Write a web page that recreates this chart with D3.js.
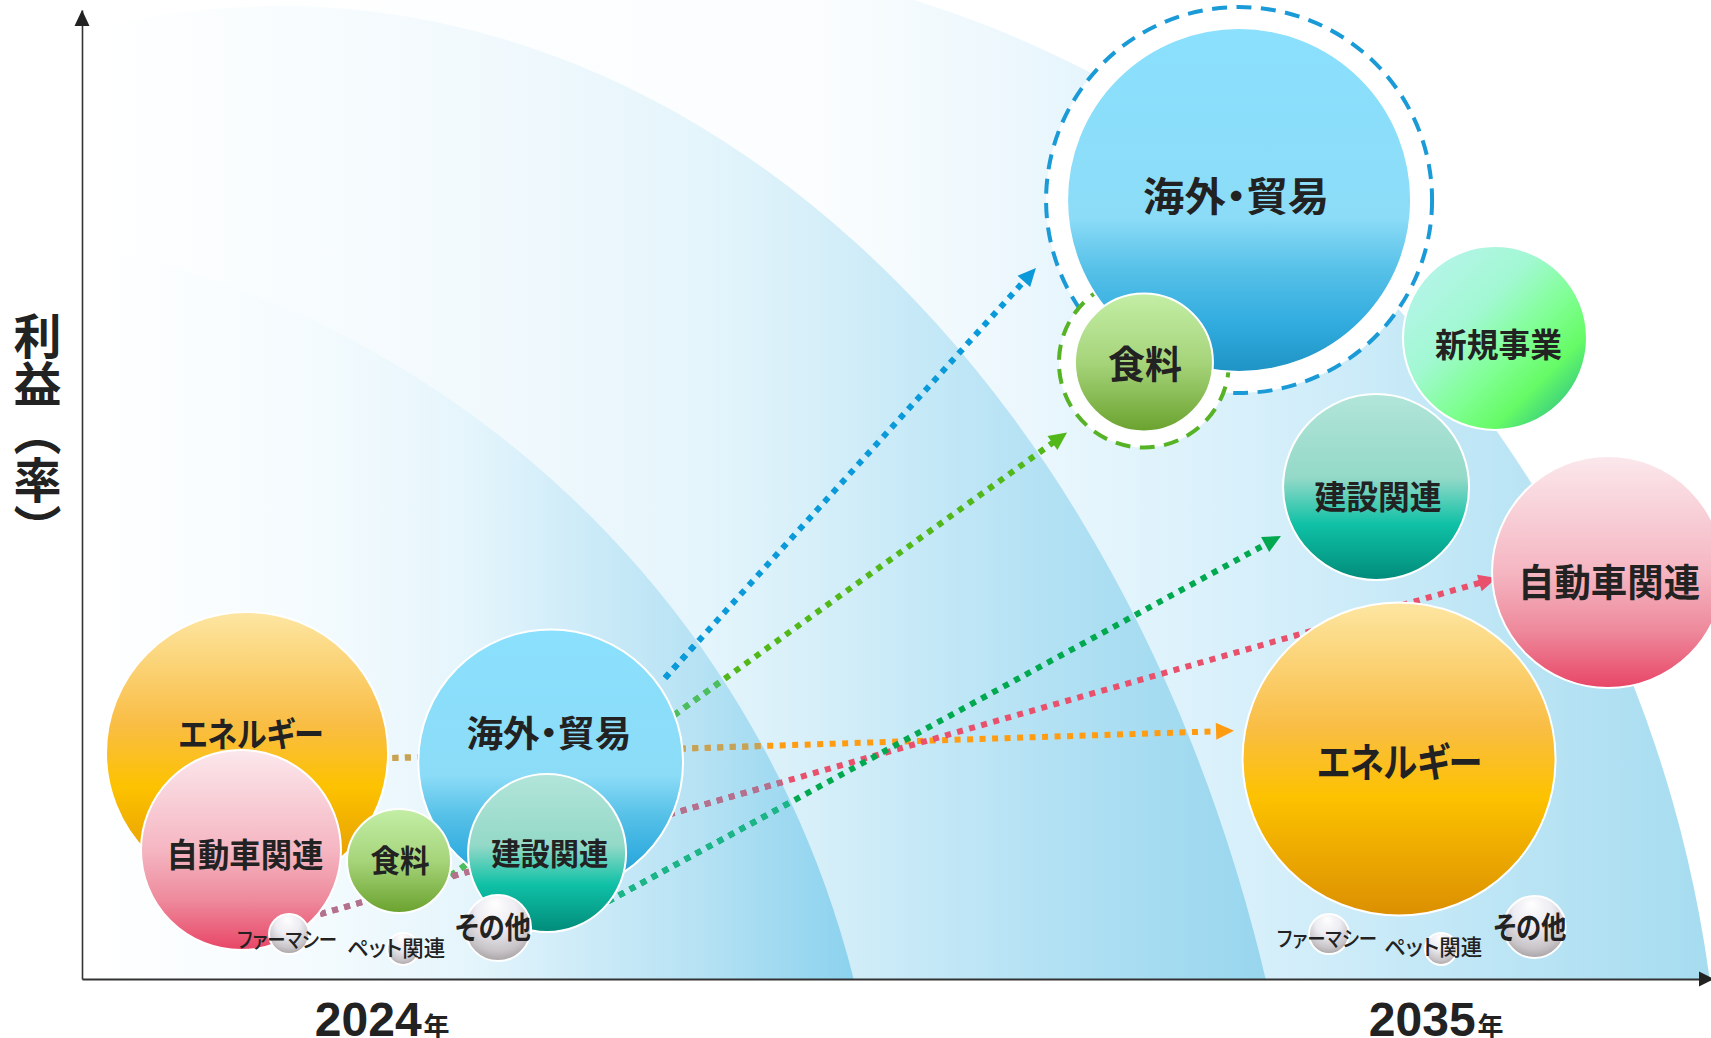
<!DOCTYPE html>
<html><head><meta charset="utf-8">
<script src="https://cdn.jsdelivr.net/npm/d3@7"></script>
<style>
html,body{margin:0;padding:0;background:#fff;overflow:hidden;}
svg{display:block;}
text{font-family:"Noto Sans CJK JP","Noto Sans",sans-serif;}
.lbl{font-feature-settings:"palt";}
</style></head><body>
<svg id="chart" width="1711" height="1038"></svg>
<script>
// ---------------- DATA ----------------
const years = ["2024", "2035"];
const yearUnit = "年";
const yearPos = [18.4, 83.1];
const yAxisLabel = "利益（率）";

const categories2024 = ["エネルギー","海外・貿易","自動車関連","建設関連","食料","ファーマシー","ペット関連","その他"];
const x2024 = [10.13, 28.77, 9.76, 28.55, 19.46, 12.71, 19.71, 25.54];
const y2024 = [23.32, 22.40, 13.31, 13.00, 12.18, 4.64, 3.10, 5.26];
const size2024 = [70.5, 66.2, 50, 39.5, 26, 10, 8, 16.5];

const categories2035 = ["海外・貿易","食料","新規事業","建設関連","自動車関連","エネルギー","ファーマシー","ペット関連","その他"];
const x2035 = [71.03, 65.19, 86.74, 79.44, 93.68, 80.85, 76.55, 83.43, 89.17];
const y2035 = [80.39, 63.62, 66.15, 50.77, 42.00, 22.70, 4.64, 3.10, 5.37];
const size2035 = [86, 34.5, 46, 46.5, 58, 78.25, 10, 8, 15.5];

const highlighted2035 = ["海外・貿易","食料"];

const arrowCategories = ["海外・貿易","食料","エネルギー","自動車関連","建設関連"];
const arrowFromX = [35.79, 20.14, 15.22, 10.93, 30.26];
const arrowFromY = [31.06, 7.64, 22.60, 4.92, 6.16];
const arrowToX = [58.56, 60.47, 70.72, 86.84, 73.60];
const arrowToY = [73.37, 56.40, 25.62, 41.38, 45.72];

// background growth bands: elliptical arcs (centre and radii in chart units)
const bandNames = ["band3","band2","band1"];
const bandCx = [31.80, 12.15, -12.15];
const bandCy = [-17.65, -44.07, -25.28];
const bandRx = [68.82, 63.54, 61.39];
const bandRy = [123.63, 144.48, 103.20];

// ---------------- STYLE ----------------
const fills = {
  "エネルギー": [[0,"#fde6a2"],[0.4,"#f9bd44"],[0.62,"#fdc200"],[1,"#db8f02"]],
  "海外・貿易": [[0,"#8ae0fd"],[0.55,"#8cdcf7"],[0.7,"#57c1e8"],[0.85,"#33ade0"],[1,"#1e93c4"]],
  "自動車関連": [[0,"#fbe8ec"],[0.5,"#f5b6c2"],[0.75,"#ee8a9c"],[1,"#e84566"]],
  "建設関連": [[0,"#b2e5da"],[0.45,"#94d9c8"],[0.7,"#0fc1a6"],[1,"#018b7a"]],
  "食料": [[0,"#c3eea6"],[0.5,"#a6d47a"],[1,"#6aa22e"]],
  "新規事業": [[0,"#b6f4ea"],[0.35,"#a2f8d3"],[0.6,"#80ff94"],[0.8,"#66fb66"],[1,"#33c880"]]
};
const sphereStops = [[0,"#ffffff"],[0.45,"#ececf2"],[0.8,"#c8c4c8"],[1,"#a39d9e"]];
const sphereCats = ["ファーマシー","ペット関連","その他"];
const lineColor = {"海外・貿易":"#0b9ad9","食料":"#52b81a","エネルギー":"#ff9c12","自動車関連":"#e8506c","建設関連":"#00a94f"};
const lineDim = {"海外・貿易":"#0b9ad9","食料":"#4dbd62","エネルギー":"#c3a259","自動車関連":"#b0728f","建設関連":"#1cb489"};
const ringStyle = {"海外・貿易":{pad:21,color:"#1a9ad6"},"食料":{pad:16,color:"#56b326"}};
const labelStyle2024 = {
  "エネルギー":[34,145,4,-21,700],"海外・貿易":[36,165,-1.7,-30.5,700],"自動車関連":[33,157,4,2.5,700],
  "建設関連":[31,117,2.6,-1.5,700],"食料":[31,59,1,-2,700],"ファーマシー":[21,100,-2,3.5,500],
  "ペット関連":[22,98,-7,-3,500],"その他":[30,76,-5,-3,700]
};
const labelStyle2035 = {
  "海外・貿易":[40,186,-3,-6,700],"食料":[38,74,1,-1.5,700],"新規事業":[33,127,3.6,4.5,700],
  "建設関連":[33,127,2,8,700],"自動車関連":[38,182,1,7,700],"エネルギー":[40,165,0.5,1,700],
  "ファーマシー":[21,100,-2,3,500],"ペット関連":[22,98,-8,-4,500],"その他":[30,73,-4.6,-1.5,700]
};
const bandStops = {
  band3:[[0,"#ffffff"],[0.45,"#fbfdfe"],[0.58,"#ebf7fd"],[0.73,"#d5effa"],[1,"#a6dcf0"]],
  band2:[[0,"#ffffff"],[0.35,"#f1f9fd"],[0.52,"#e5f5fc"],[0.62,"#d6eff9"],[0.8,"#b5e2f4"],[1,"#98d6ee"]],
  band1:[[0,"#ffffff"],[0.3,"#f4fbfe"],[0.5,"#e5f5fc"],[0.65,"#cdebf8"],[0.8,"#b6e2f4"],[1,"#8cd2ee"]]
};

// ---------------- CHART ----------------
const W = 1711, H = 1038, L = 82, R = 1711, B = 979, T = 10;
const x = d3.scaleLinear().domain([0,100]).range([L,R]);
const y = d3.scaleLinear().domain([0,100]).range([B,T]);
const r = d3.scaleLinear().domain([0,100]).range([0,200]);
const xLen = u => x(u) - x(0);
const yLen = v => y(0) - y(v);

const svg = d3.select("#chart");
const defs = svg.append("defs");

defs.append("clipPath").attr("id","plotClip").append("rect")
  .attr("x",L).attr("y",0).attr("width",R-L).attr("height",B);

function addLinear(id, stops, attrs){
  const g = defs.append("linearGradient").attr("id",id);
  Object.entries(attrs).forEach(([k,v])=>g.attr(k,v));
  stops.forEach(s=>g.append("stop").attr("offset",s[0]).attr("stop-color",s[1]));
}
const gradId = {};
Object.keys(fills).forEach((k,i)=>{
  gradId[k] = "fill"+i;
  const attrs = k==="新規事業" ? {x1:0.1,y1:0.1,x2:0.9,y2:0.9} : {x1:0,y1:0,x2:0,y2:1};
  addLinear("fill"+i, fills[k], attrs);
});
const rg = defs.append("radialGradient").attr("id","sphere")
  .attr("cx",0.5).attr("cy",0.35).attr("r",0.68).attr("fx",0.45).attr("fy",0.12);
sphereStops.forEach(s=>rg.append("stop").attr("offset",s[0]).attr("stop-color",s[1]));
sphereCats.forEach(c=>gradId[c]="sphere");

// background bands
const bands = bandNames.map((id,i)=>{
  const cx = x(bandCx[i]), cy = y(bandCy[i]), rx = xLen(bandRx[i]), ry = yLen(bandRy[i]);
  const right = cx + rx*Math.sqrt(Math.max(0, 1 - Math.pow((B-cy)/ry, 2)));
  return {id, cx, cy, rx, ry, right};
});
const bg = svg.append("g").attr("clip-path","url(#plotClip)");
bands.forEach(b=>{
  addLinear("g_"+b.id, bandStops[b.id], {gradientUnits:"userSpaceOnUse", x1:L, y1:0, x2:b.right, y2:0});
  bg.append("ellipse").attr("cx",b.cx).attr("cy",b.cy).attr("rx",b.rx).attr("ry",b.ry)
    .attr("fill",`url(#g_${b.id})`);
});
const b1 = bands[2];
defs.append("clipPath").attr("id","band1Clip").append("ellipse")
  .attr("cx",b1.cx).attr("cy",b1.cy).attr("rx",b1.rx).attr("ry",b1.ry);

// axes
const gx = svg.append("g").attr("transform",`translate(0,${B})`)
  .call(d3.axisBottom(x).tickValues(yearPos).tickSize(0).tickSizeOuter(0).tickFormat((d,i)=>years[i]));
gx.select(".domain").attr("stroke","#333").attr("stroke-width",2);
gx.selectAll(".tick text").each(function(d,i){
  const t = d3.select(this).text(null).attr("dy",null).attr("y",57).attr("fill","#222").attr("text-anchor","middle");
  t.append("tspan").text(years[i]).attr("font-family","'Liberation Sans',Arial,sans-serif")
    .attr("font-weight",700).attr("font-size",48);
  t.append("tspan").text(yearUnit).attr("dx",2).attr("font-family","'Noto Sans CJK JP',sans-serif")
    .attr("font-weight",700).attr("font-size",26);
});
svg.append("path").attr("d",`M${R+3},${B}L${R-12},${B-7.5}L${R-12},${B+7.5}Z`).attr("fill","#222");

const gy = svg.append("g").attr("transform",`translate(${L},0)`)
  .call(d3.axisLeft(y).tickValues([]).tickSizeOuter(0));
gy.select(".domain").attr("stroke","#333").attr("stroke-width",1.6);
svg.append("path").attr("d",`M${L},${T}L${L-7.5},${T+16}L${L+7.5},${T+16}Z`).attr("fill","#222");

svg.append("text").text(yAxisLabel)
  .attr("x",37.5).attr("y",312)
  .style("writing-mode","vertical-rl")
  .attr("font-size",48).attr("font-weight",700).attr("fill","#222");

// arrows
const arrows = arrowCategories.map((c,i)=>{
  const x0=x(arrowFromX[i]), y0=y(arrowFromY[i]), x1=x(arrowToX[i]), y1=y(arrowToY[i]);
  const ang = Math.atan2(y1-y0, x1-x0);
  return {c, x0, y0, x1, y1, ang, xe:x1-12*Math.cos(ang), ye:y1-12*Math.sin(ang)};
});
const ga = svg.append("g");
arrows.forEach(a=>{
  ga.append("line").attr("x1",a.x0).attr("y1",a.y0).attr("x2",a.xe).attr("y2",a.ye)
    .attr("stroke",lineColor[a.c]).attr("stroke-width",6).attr("stroke-dasharray","6 6.5");
  ga.append("line").attr("x1",a.x0).attr("y1",a.y0).attr("x2",a.xe).attr("y2",a.ye)
    .attr("clip-path","url(#band1Clip)")
    .attr("stroke",lineDim[a.c]).attr("stroke-width",6).attr("stroke-dasharray","6 6.5");
  ga.append("path").attr("d","M-18,-8.5L0,0L-18,8.5Z")
    .attr("transform",`translate(${a.x1},${a.y1}) rotate(${a.ang*180/Math.PI})`)
    .attr("fill",lineColor[a.c]);
});

// bubbles
const data2035 = categories2035.map((c,i)=>({c, x:x2035[i], y:y2035[i], s:size2035[i], ls:labelStyle2035[c]}));
const data2024 = categories2024.map((c,i)=>({c, x:x2024[i], y:y2024[i], s:size2024[i], ls:labelStyle2024[c]}));

// highlight rings (drawn beneath all 2035 bubbles)
svg.append("g").selectAll("circle")
  .data(data2035.filter(d=>highlighted2035.includes(d.c))).join("circle")
  .attr("cx",d=>x(d.x)).attr("cy",d=>y(d.y)).attr("r",d=>r(d.s)+ringStyle[d.c].pad)
  .attr("fill","#fff").attr("stroke",d=>ringStyle[d.c].color).attr("stroke-width",4)
  .attr("stroke-dasharray","15 9.5");

function drawBubbles(data){
  svg.append("g").selectAll("circle").data(data).join("circle")
    .attr("cx",d=>x(d.x)).attr("cy",d=>y(d.y)).attr("r",d=>r(d.s))
    .attr("fill",d=>`url(#${gradId[d.c]})`).attr("stroke","#fff").attr("stroke-width",2);
}
drawBubbles(data2035);
drawBubbles(data2024);

function drawLabels(data){
  svg.append("g").selectAll("text").data(data).join("text")
    .attr("class","lbl")
    .attr("x",d=>x(d.x)+d.ls[2]).attr("y",d=>y(d.y)+d.ls[3])
    .attr("text-anchor","middle").attr("dominant-baseline","central")
    .attr("font-size",d=>d.ls[0]).attr("font-weight",d=>d.ls[4])
    .attr("textLength",d=>d.ls[1]).attr("lengthAdjust","spacingAndGlyphs")
    .attr("fill","#222").text(d=>d.c);
}
drawLabels(data2035);
drawLabels(data2024);
</script>
</body></html>
